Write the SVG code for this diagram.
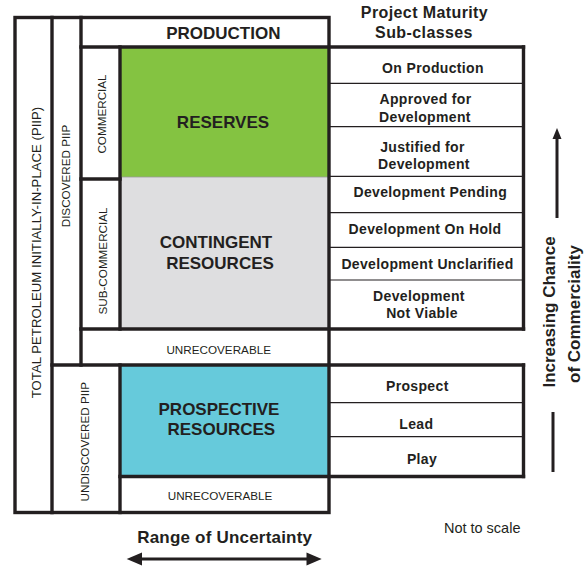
<svg xmlns="http://www.w3.org/2000/svg" width="587" height="568" viewBox="0 0 587 568">
<style>
.k{stroke:#231f20;stroke-width:3.4;fill:none;stroke-linecap:square}
.t{stroke:#231f20;stroke-width:1.2;fill:none}
.b{font-family:"Liberation Sans",Arial,sans-serif;font-weight:bold;fill:#231f20;text-anchor:middle}
.r{font-family:"Liberation Sans",Arial,sans-serif;fill:#231f20;text-anchor:middle}
.big{font-size:17px}
.sub{font-size:14px;letter-spacing:0.35px}
.sm{font-size:11.7px}
</style>
<defs>
<marker id="ah" markerWidth="6" markerHeight="6" refX="5" refY="3" orient="auto-start-reverse" markerUnits="strokeWidth">
<path d="M0,0 L6,3 L0,6 Z" fill="#231f20"/>
</marker>
</defs>
<rect width="587" height="568" fill="#fff"/>

<g id="reserves">
<rect x="120" y="47" width="209" height="130" fill="#84c341"/>
<text class="b big" x="223" y="128.3">RESERVES</text>
</g>
<g id="contingent">
<rect x="120" y="177" width="209" height="152" fill="#dedee0"/>
<line x1="120" y1="177" x2="329" y2="177" stroke="#9a9a9a" stroke-width="0.8"/>
<text class="b big" x="216" y="248.3">CONTINGENT</text>
<text class="b big" x="220" y="269.3">RESOURCES</text>
</g>
<g id="prospective">
<rect x="120" y="365" width="209" height="111.5" fill="#66cadb"/>
<text class="b big" x="219" y="415">PROSPECTIVE</text>
<text class="b big" x="221.3" y="435">RESOURCES</text>
</g>

<g id="frame">
<rect class="k" x="15" y="17.5" width="314" height="495"/>
<line class="k" x1="52" y1="17.5" x2="52" y2="512.5"/>
<line class="k" x1="81" y1="17.5" x2="81" y2="365"/>
<line class="k" x1="81" y1="47" x2="523.5" y2="47"/>
<line class="k" x1="120" y1="47" x2="120" y2="329"/>
<line class="k" x1="81" y1="179" x2="120" y2="179"/>
<line class="k" x1="81" y1="329" x2="523.5" y2="329"/>
<line class="k" x1="52" y1="365" x2="523.5" y2="365"/>
<line class="k" x1="120" y1="365" x2="120" y2="512.5"/>
<line class="k" x1="120" y1="476.5" x2="523.5" y2="476.5"/>
<line class="k" x1="523.5" y1="47" x2="523.5" y2="329"/>
<line class="k" x1="523.5" y1="365" x2="523.5" y2="476.5"/>
</g>

<g id="production">
<text class="b big" x="223.3" y="39.3">PRODUCTION</text>
</g>
<g id="total-piip">
<text class="r" font-size="13.2" transform="translate(40.5,252.5) rotate(-90)">TOTAL PETROLEUM INITIALLY-IN-PLACE (PIIP)</text>
</g>
<g id="discovered-piip">
<text class="r sm" transform="translate(70.3,176) rotate(-90)">DISCOVERED PIIP</text>
</g>
<g id="commercial">
<text class="r sm" transform="translate(106,114) rotate(-90)">COMMERCIAL</text>
</g>
<g id="sub-commercial">
<text class="r sm" transform="translate(106.5,261) rotate(-90)">SUB-COMMERCIAL</text>
</g>
<g id="undiscovered-piip">
<text class="r sm" transform="translate(88.8,441.7) rotate(-90)">UNDISCOVERED PIIP</text>
</g>
<g id="unrecoverable-1">
<text class="r sm" x="218.7" y="354">UNRECOVERABLE</text>
</g>
<g id="unrecoverable-2">
<text class="r sm" x="220" y="500">UNRECOVERABLE</text>
</g>

<g id="subclasses">
<line class="t" x1="329" y1="83.3" x2="523.5" y2="83.3"/>
<line class="t" x1="329" y1="126.7" x2="523.5" y2="126.7"/>
<line class="t" x1="329" y1="176.3" x2="523.5" y2="176.3"/>
<line class="t" x1="329" y1="212.7" x2="523.5" y2="212.7"/>
<line class="t" x1="329" y1="247.3" x2="523.5" y2="247.3"/>
<line class="t" x1="329" y1="280" x2="523.5" y2="280"/>
<line class="t" x1="329" y1="402.7" x2="523.5" y2="402.7"/>
<line class="t" x1="329" y1="436.7" x2="523.5" y2="436.7"/>
<text class="b" font-size="16" letter-spacing="0.4" x="424.5" y="18.3">Project Maturity</text>
<text class="b" font-size="16" letter-spacing="0.4" x="424" y="38.3">Sub-classes</text>
<text class="b sub" x="433" y="73.3">On Production</text>
<text class="b sub" x="425.5" y="104">Approved for</text>
<text class="b sub" x="425" y="121.7">Development</text>
<text class="b sub" x="422.5" y="151.7">Justified for</text>
<text class="b sub" x="424" y="169.3">Development</text>
<text class="b sub" x="430.3" y="197.3">Development Pending</text>
<text class="b sub" x="425" y="234.3">Development On Hold</text>
<text class="b sub" x="427.5" y="269.3">Development Unclarified</text>
<text class="b sub" x="419" y="300.7">Development</text>
<text class="b sub" x="422" y="318.3">Not Viable</text>
<text class="b sub" x="417.3" y="390.7">Prospect</text>
<text class="b sub" x="416.3" y="429.3">Lead</text>
<text class="b sub" x="422" y="464">Play</text>
</g>

<g id="connectors">
<line x1="557" y1="218" x2="557" y2="138" stroke="#231f20" stroke-width="3"/>
<polygon points="557,128 552.5,139 561.5,139" fill="#231f20"/>
<line x1="553" y1="412" x2="553" y2="472" stroke="#231f20" stroke-width="3"/>
<line x1="140" y1="559" x2="308" y2="559" stroke="#231f20" stroke-width="3"/>
<polygon points="126.7,559 142,552.5 142,565.5" fill="#231f20"/>
<polygon points="321.7,559 306.5,552.5 306.5,565.5" fill="#231f20"/>
</g>

<g id="labels">
<text class="b big" transform="translate(555,312) rotate(-90)">Increasing Chance</text>
<text class="b big" transform="translate(580,314) rotate(-90)">of Commerciality</text>
<text class="b big" letter-spacing="0.2" x="224.7" y="542.7">Range of Uncertainty</text>
<text class="r" font-size="14.5" x="482.2" y="532.7">Not to scale</text>
</g>
</svg>
